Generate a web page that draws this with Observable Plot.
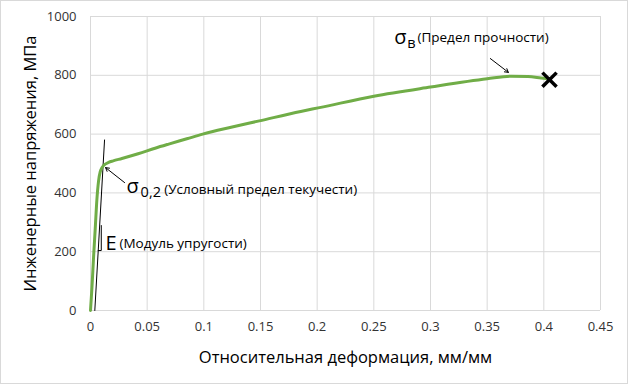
<!DOCTYPE html>
<html>
<head>
<meta charset="utf-8">
<script src="https://cdn.jsdelivr.net/npm/d3@7"></script>
<script src="https://cdn.jsdelivr.net/npm/@observablehq/plot@0.6"></script>
<style>
  html, body { margin: 0; padding: 0; background: #fff; }
  #chart svg { display: block; outline: 1px solid #d9d9d9; outline-offset: -1px; }
</style>
</head>
<body>
<div id="chart"></div>
<script>
// Strain (mm/mm) and engineering stress (MPa)
const strain = [0, 0.0013, 0.0027, 0.0042, 0.0056, 0.0071, 0.0086, 0.0100, 0.0115, 0.016, 0.020, 0.0277, 0.042, 0.057, 0.069, 0.085, 0.099, 0.125, 0.149, 0.1855, 0.202, 0.250, 0.300, 0.350, 0.371, 0.386, 0.3975, 0.404];
const stress = [0, 79, 181, 280, 375, 440, 472, 485, 493, 504, 509, 517, 533, 552, 566, 584, 600, 624, 645, 677, 690, 729, 760, 788, 797, 796, 791, 788];

const xTicks = [0, 0.05, 0.1, 0.15, 0.2, 0.25, 0.3, 0.35, 0.4, 0.45];
const yTicks = [0, 200, 400, 600, 800, 1000];

const xTitle = "Относительная деформация, мм/мм";
const yTitle = "Инженерные напряжения, МПа";

// Fracture point
const fractureX = [0.405];
const fractureY = [785];

// Elastic modulus tangent line and slope bracket
const tangentX = [0.0038, 0.0124];
const tangentY = [0, 580];
const bracketX = [0.0068, 0.0095, 0.0095];
const bracketY = [204, 204, 289];

// Annotation arrows: [x1, y1, x2, y2]
const arrowsX1 = [0.0301, 0.3528];
const arrowsY1 = [435, 857];
const arrowsX2 = [0.0133, 0.3687];
const arrowsY2 = [486, 810];

// Annotation texts
const bigLabels = ["σ", "E", "σ"];
const bigX = [0.0318, 0.0133, 0.268];
const bigY = [422, 227, 928];
const subLabels = ["0,2", "в"];
const subX = [0.0442, 0.2794];
const subY = [401, 908];
const noteLabels = ["(Условный предел текучести)", "(Модуль упругости)", "(Предел прочности)"];
const noteX = [0.0650, 0.0255, 0.2885];
const noteY = [412, 228, 927];

const curve = strain.map((s, i) => ({x: s, y: stress[i]}));
const idx = a => a.map((_, i) => i);

const chart = Plot.plot({
  width: 628,
  height: 384,
  marginLeft: 90,
  marginRight: 28,
  marginTop: 16,
  marginBottom: 74,
  style: {fontFamily: "'Open Sans', 'Noto Sans', sans-serif", fontSize: "13px", color: "#333", background: "#fff"},
  x: {domain: [0, 0.45], ticks: xTicks, tickSize: 0, tickPadding: 11, tickFormat: d => String(d), label: null, line: false},
  y: {domain: [0, 1000], ticks: yTicks, tickSize: 0, tickPadding: 14, tickFormat: d => String(d), label: null, line: false},
  marks: [
    Plot.ruleX(xTicks, {stroke: "#d9d9d9", strokeWidth: 1}),
    Plot.ruleY(yTicks, {stroke: "#d9d9d9", strokeWidth: 1}),
    Plot.line(idx(tangentX), {x: i => tangentX[i], y: i => tangentY[i], stroke: "#000", strokeWidth: 1}),
    Plot.line(idx(bracketX), {x: i => bracketX[i], y: i => bracketY[i], stroke: "#000", strokeWidth: 1}),
    Plot.line(curve, {x: "x", y: "y", stroke: "#70ad47", strokeWidth: 3, curve: "monotone-x"}),
    Plot.dot(idx(fractureX), {x: i => fractureX[i], y: i => fractureY[i], symbol: "times", r: 6.5, stroke: "#000", strokeWidth: 3.5}),
    Plot.arrow(idx(arrowsX1), {x1: i => arrowsX1[i], y1: i => arrowsY1[i], x2: i => arrowsX2[i], y2: i => arrowsY2[i], stroke: "#000", strokeWidth: 1, headLength: 6}),
    Plot.text(idx(bigLabels), {x: i => bigX[i], y: i => bigY[i], text: i => bigLabels[i], textAnchor: "start", lineAnchor: "middle", fontSize: 20, fill: "#000"}),
    Plot.text(idx(subLabels), {x: i => subX[i], y: i => subY[i], text: i => subLabels[i], textAnchor: "start", lineAnchor: "middle", fontSize: 14.5, fill: "#000"}),
    Plot.text(idx(noteLabels), {x: i => noteX[i], y: i => noteY[i], text: i => noteLabels[i], textAnchor: "start", lineAnchor: "middle", fontSize: 13.5, fill: "#000"}),
    Plot.text([xTitle], {frameAnchor: "bottom", dy: 47, lineAnchor: "middle", fontSize: 16.5, fill: "#000"}),
    Plot.text([yTitle], {frameAnchor: "left", dx: -60, rotate: -90, textAnchor: "middle", lineAnchor: "middle", fontSize: 16.5, fill: "#000"})
  ]
});
document.getElementById("chart").appendChild(chart);
</script>
</body>
</html>
